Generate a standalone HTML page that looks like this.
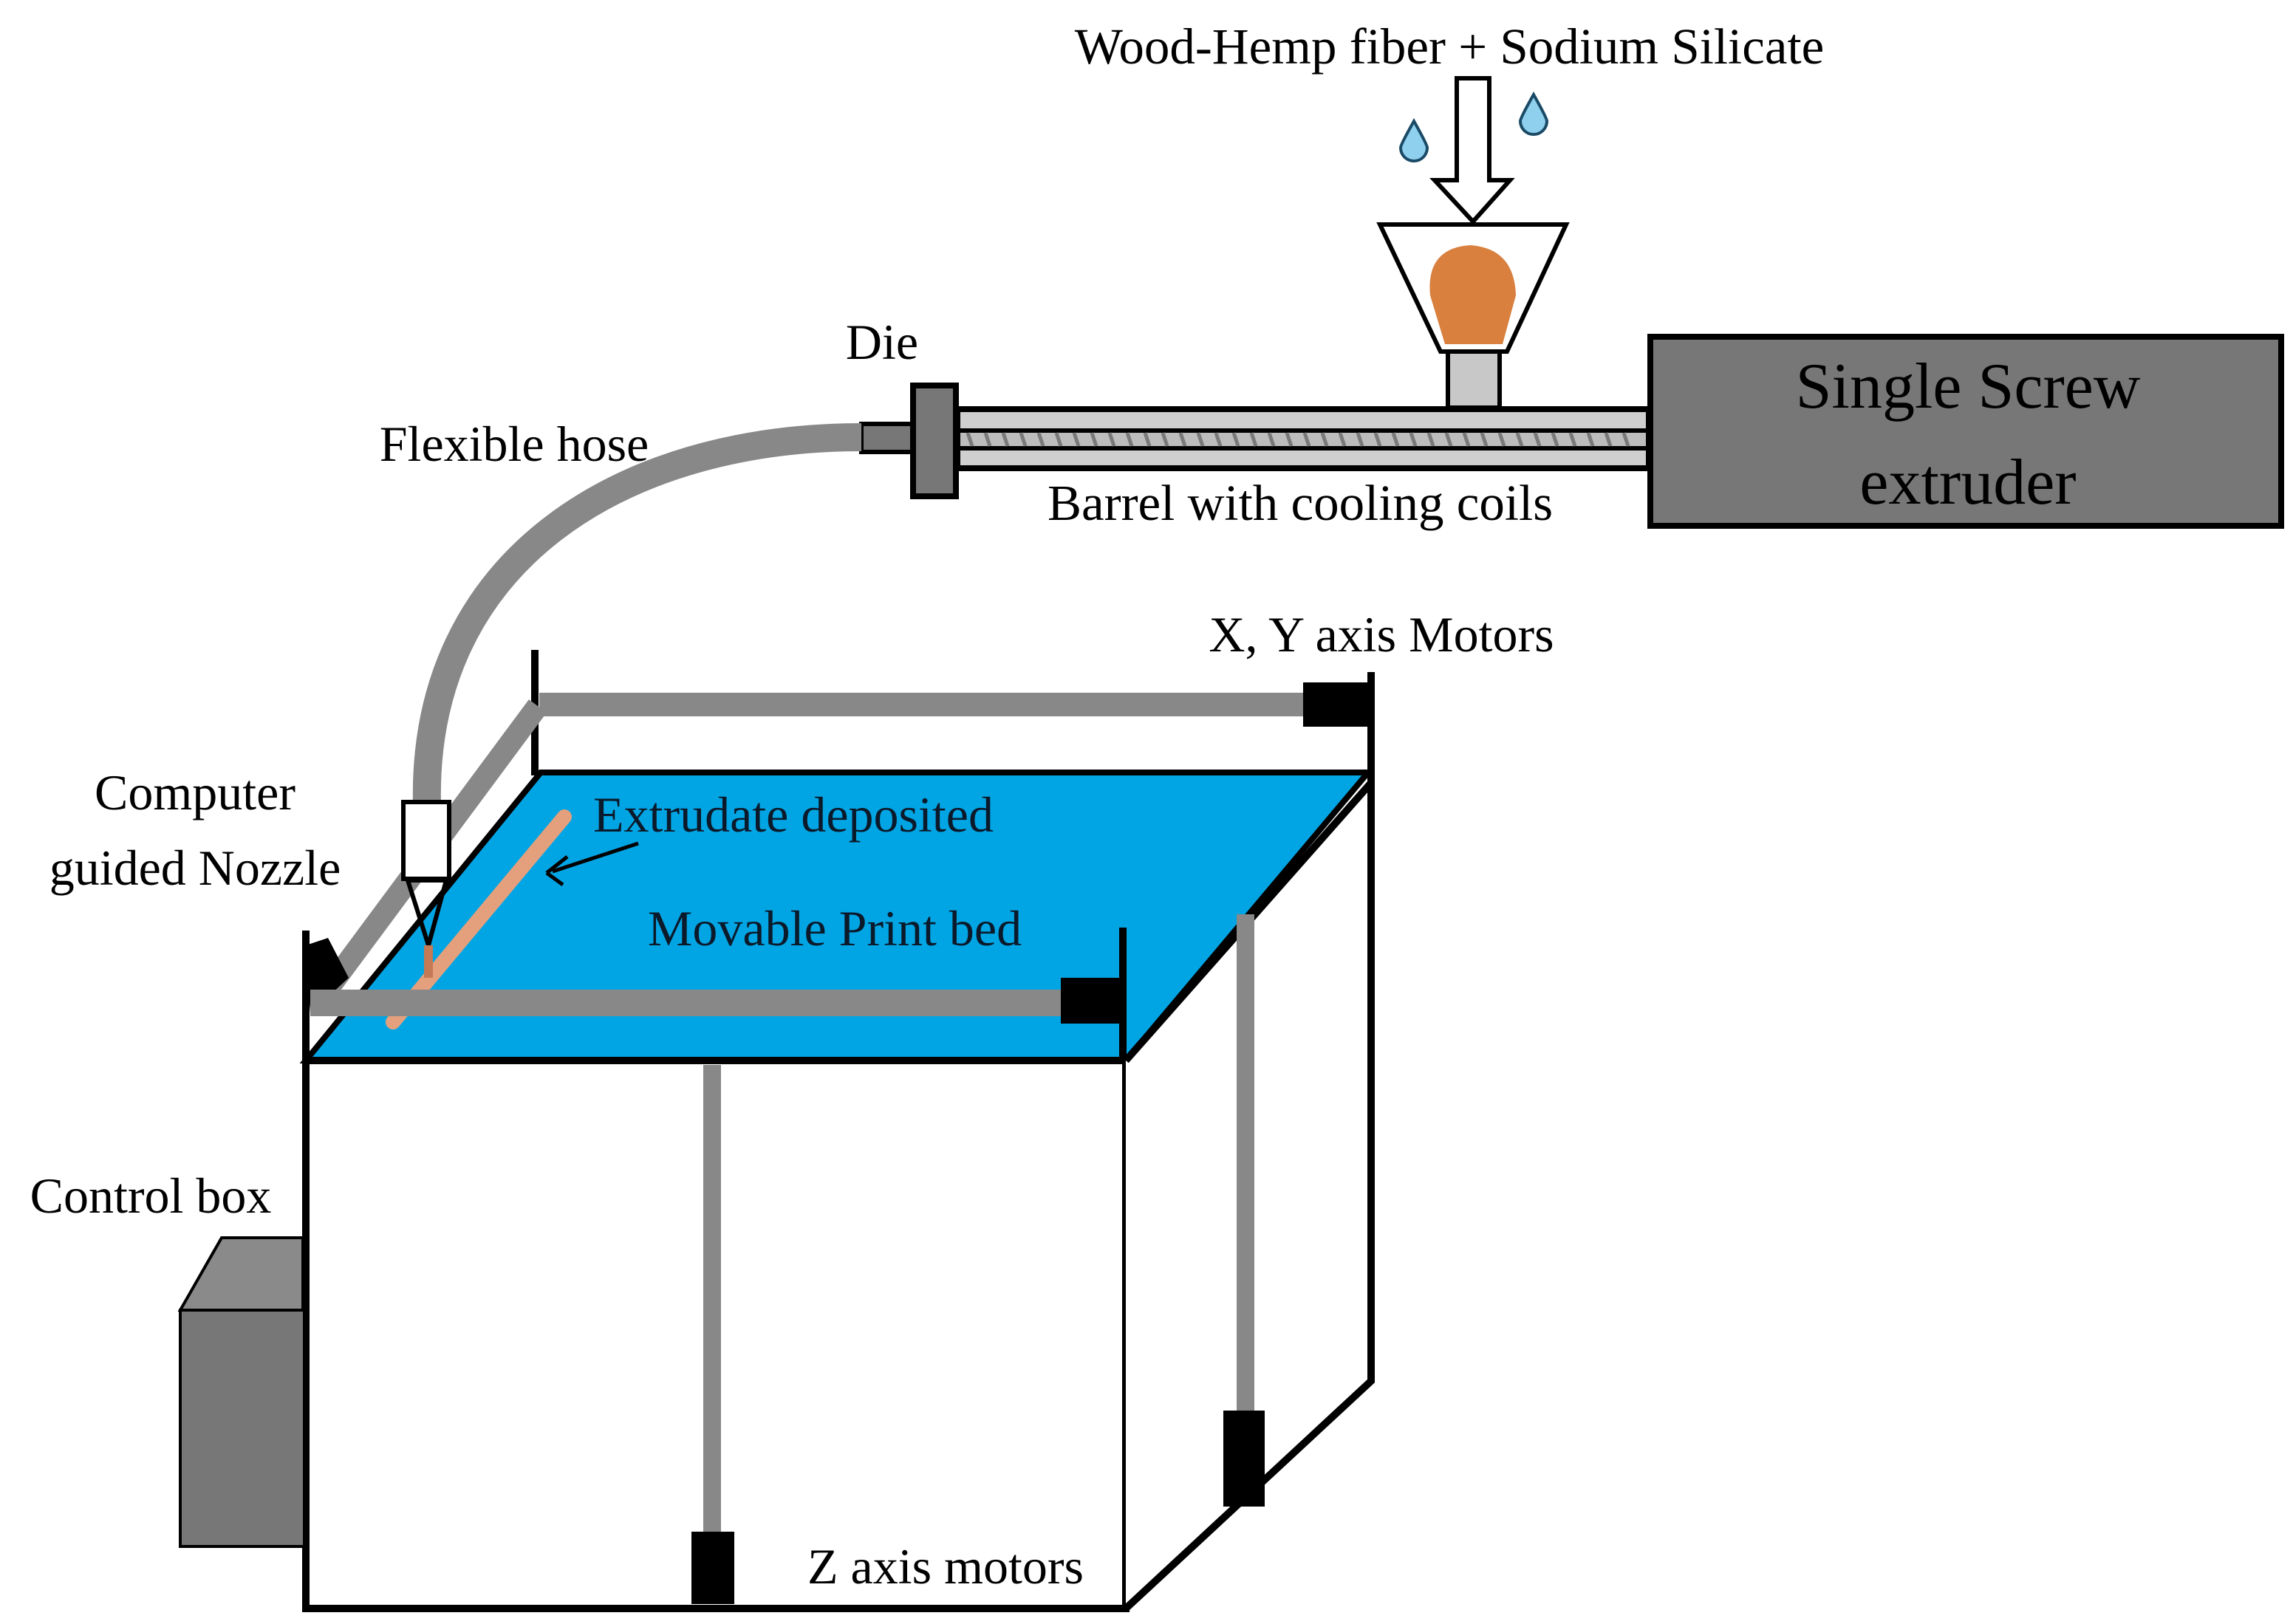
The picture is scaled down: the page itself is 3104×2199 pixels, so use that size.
<!DOCTYPE html>
<html><head><meta charset="utf-8"><style>html,body{margin:0;padding:0;background:#fff}svg{display:block}</style></head>
<body>
<svg width="3104" height="2199" viewBox="0 0 1552 1099.5" xmlns="http://www.w3.org/2000/svg" font-family="'Liberation Serif', serif">
<rect width="1552" height="1100" fill="#fff"/>
<text x="981" y="43" font-size="34.5" text-anchor="middle">Wood-Hemp fiber + Sodium Silicate</text>
<path d="M986,53 H1008 V122 H1022 L997,150 L971,122 H986 Z" fill="#fff" stroke="#000" stroke-width="3"/>
<path d="M957,82 Q966,98 966,100 A9,9 0 1 1 948,100 Q948,98 957,82Z" fill="#8fd0ee" stroke="#1a4a66" stroke-width="2"/>
<path d="M1038,64 Q1047,80 1047,82 A9,9 0 1 1 1029,82 Q1029,80 1038,64Z" fill="#8fd0ee" stroke="#1a4a66" stroke-width="2"/>
<path d="M934,152 H1060 L1020,238 H975 Z" fill="#fff" stroke="#000" stroke-width="3"/>
<path d="M968,200 Q965,168 995,166 Q1025,168 1026,200 L1017,233 H978 Z" fill="#d9803e"/>
<rect x="980" y="238" width="35" height="38" fill="#c8c8c8" stroke="#000" stroke-width="3"/>
<rect x="646" y="275" width="470" height="44" fill="#000"/>
<rect x="650" y="279" width="464" height="11" fill="#cfcfcf"/>
<rect x="650" y="293" width="464" height="9" fill="#bdbdbd"/>
<g stroke="#7a7a7a" stroke-width="2.5">
<path d="M655,293 l3,9 M667,293 l3,9 M679,293 l3,9 M691,293 l3,9 M703,293 l3,9 M715,293 l3,9 M727,293 l3,9 M739,293 l3,9 M751,293 l3,9 M763,293 l3,9 M775,293 l3,9 M787,293 l3,9 M799,293 l3,9 M811,293 l3,9 M823,293 l3,9 M835,293 l3,9 M847,293 l3,9 M859,293 l3,9 M871,293 l3,9 M883,293 l3,9 M895,293 l3,9 M907,293 l3,9 M919,293 l3,9 M931,293 l3,9 M943,293 l3,9 M955,293 l3,9 M967,293 l3,9 M979,293 l3,9 M991,293 l3,9 M1003,293 l3,9 M1015,293 l3,9 M1027,293 l3,9 M1039,293 l3,9 M1051,293 l3,9 M1063,293 l3,9 M1075,293 l3,9 M1087,293 l3,9 M1099,293 l3,9"/>
</g>
<rect x="650" y="305" width="464" height="10" fill="#cfcfcf"/>
<rect x="583" y="287" width="36" height="19" fill="#777" stroke="#000" stroke-width="3"/>
<rect x="618" y="261" width="29" height="75" fill="#777" stroke="#000" stroke-width="4"/>
<rect x="1117" y="228" width="427" height="128" fill="#777" stroke="#000" stroke-width="4"/>
<text x="1332" y="276" font-size="44" text-anchor="middle">Single Screw</text>
<text x="1332" y="341" font-size="44" text-anchor="middle">extruder</text>
<text x="597" y="243" font-size="34" text-anchor="middle">Die</text>
<text x="348" y="312" font-size="34" text-anchor="middle">Flexible hose</text>
<text x="880" y="352" font-size="34.5" text-anchor="middle">Barrel with cooling coils</text>
<path d="M583,296 C420,296 285,380 289,545" fill="none" stroke="#888" stroke-width="19"/>
<line x1="362" y1="440" x2="362" y2="525" stroke="#000" stroke-width="5"/>
<line x1="928" y1="455" x2="928" y2="530" stroke="#000" stroke-width="5"/>
<rect x="365" y="469" width="520" height="16" fill="#888"/>
<rect x="882" y="462" width="44" height="30" fill="#000"/>
<path d="M366,523 H926 L762,718 H207 Z" fill="#02a5e4" stroke="#000" stroke-width="4"/>
<line x1="364" y1="478" x2="212" y2="683" stroke="#888" stroke-width="15"/>
<rect x="273" y="543" width="31" height="52" fill="#fff" stroke="#000" stroke-width="3"/>
<path d="M276,596 L302,596 L290,640 Z" fill="none" stroke="#000" stroke-width="3"/>
<line x1="382" y1="553" x2="266" y2="692" stroke="#e4a07c" stroke-width="10" stroke-linecap="round"/>
<line x1="290" y1="640" x2="290" y2="662" stroke="#c47a55" stroke-width="6"/>
<line x1="432" y1="571" x2="374" y2="590" stroke="#000" stroke-width="2.5"/>
<path d="M370,591 L384,580 M370,591 L381,599" stroke="#000" stroke-width="2.5" fill="none"/>
<text x="537" y="563" font-size="34" text-anchor="middle" fill="#0b1a2a">Extrudate deposited</text>
<text x="565" y="640" font-size="34" text-anchor="middle" fill="#0b1a2a">Movable Print bed</text>
<line x1="207" y1="630" x2="207" y2="720" stroke="#000" stroke-width="5"/>
<path d="M207,640 L222,635 L236,662 L210,686 Z" fill="#000"/>
<rect x="210" y="670" width="512" height="18" fill="#888"/>
<rect x="718" y="662" width="41" height="31" fill="#000"/>
<line x1="760" y1="628" x2="760" y2="720" stroke="#000" stroke-width="5"/>
<rect x="207" y="718" width="555" height="371" fill="#fff" stroke="#000" stroke-width="5"/>
<path d="M762,718 L928,530 V935 L762,1089" fill="#fff" stroke="#000" stroke-width="5"/>
<rect x="837" y="619" width="12" height="340" fill="#888"/>
<rect x="828" y="955" width="28" height="65" fill="#000"/>
<rect x="476" y="721" width="12" height="320" fill="#888"/>
<rect x="468" y="1037" width="29" height="49" fill="#000"/>
<path d="M122,887 L150,838 H205 V887 Z" fill="#8a8a8a" stroke="#000" stroke-width="2"/>
<rect x="122" y="887" width="84" height="160" fill="#777" stroke="#000" stroke-width="2"/>
<text x="935" y="441" font-size="34" text-anchor="middle">X, Y axis Motors</text>
<text x="132" y="548" font-size="34" text-anchor="middle">Computer</text>
<text x="132" y="599" font-size="34" text-anchor="middle">guided Nozzle</text>
<text x="102" y="821" font-size="34" text-anchor="middle">Control box</text>
<text x="640" y="1072" font-size="34" text-anchor="middle">Z axis motors</text>
</svg>
</body></html>
